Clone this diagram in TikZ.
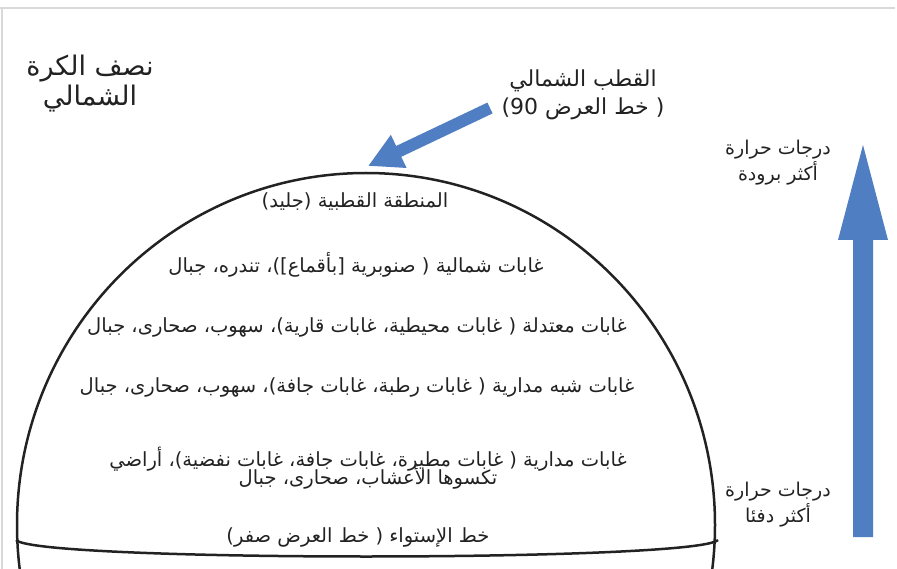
\documentclass[tikz,border=0pt]{standalone}
\usepackage{fontspec}
\newfontfamily\arabicfont[Script=Arabic]{DejaVu Sans}
\TeXXeTstate=1
\usetikzlibrary{arrows.meta,positioning}
\definecolor{poleblue}{HTML}{4F7EC2}
\definecolor{inkgray}{HTML}{222222}
\newcommand{\artext}[1]{\beginR #1\endR}

\begin{document}
\begin{tikzpicture}[x=1pt,y=-1pt,every node/.style={text=inkgray,inner sep=0pt},
  zone/.style={font=\arabicfont\fontsize{19.5}{16}\selectfont,align=center},
  side/.style={font=\arabicfont\fontsize{19}{26}\selectfont,align=center},
  domeline/.style={line width=2.5pt,draw=inkgray}]
\useasboundingbox (0,0) rectangle (897,569);
\draw[gray!30,line width=2pt] (0,8) -- (895,8) (2,8) -- (2,569);
\begin{scope}
\clip (0,0) rectangle (897,569);
\draw[domeline] (366,525) ellipse [x radius=349,y radius=352];
\end{scope}
\draw[domeline] (16,540) .. controls (36,562) and (696,562) .. (718,540);
\node[side,font=\arabicfont\fontsize{27}{30}\selectfont] (title) at (90,84) {\artext{نصف الكرة}\\\artext{الشمالي}};
\node[side,font=\arabicfont\fontsize{22}{28}\selectfont] (pole) at (583,95) {\artext{القطب الشمالي}\\\artext{( خط العرض \beginL 90\endL{})}};
\node[side] (colder) at (778,163) {\artext{درجات حرارة}\\\artext{أكثر برودة}};
\node[side] (warmer) at (778,505) {\artext{درجات حرارة}\\\artext{أكثر دفئا}};
\node[zone] (polar) at (355,202) {\artext{المنطقة القطبية (جليد)}};
\node[zone] (boreal) at (356,265) {\artext{غابات شمالية ( صنوبرية [بأقماع])، تندره، جبال}};
\node[zone] (temperate) at (357,327) {\artext{غابات معتدلة ( غابات محيطية، غابات قارية)، سهوب، صحارى، جبال}};
\node[zone] (subtropic) at (357,387) {\artext{غابات شبه مدارية ( غابات رطبة، غابات جافة)، سهوب، صحارى، جبال}};
\node[zone] (tropic) at (368,468) {\artext{غابات مدارية ( غابات مطيرة، غابات جافة، غابات نفضية)، أراضي}\\[-6pt]\artext{تكسوها الأعشاب، صحارى، جبال}};
\node[zone] (equator) at (358,537) {\artext{خط الإستواء ( خط العرض صفر)}};
\coordinate (poletail) at (490,108);
\coordinate (poletip) at (368,166);
\draw[poleblue,line width=12pt,-{Triangle[width=34pt,length=34pt]}] (poletail) -- (poletip);
\fill[poleblue] (853,537) -- (853,240) -- (838,240) -- (863,145) -- (888,240) -- (873,240) -- (873,537) -- cycle;
\end{tikzpicture}
\end{document}
